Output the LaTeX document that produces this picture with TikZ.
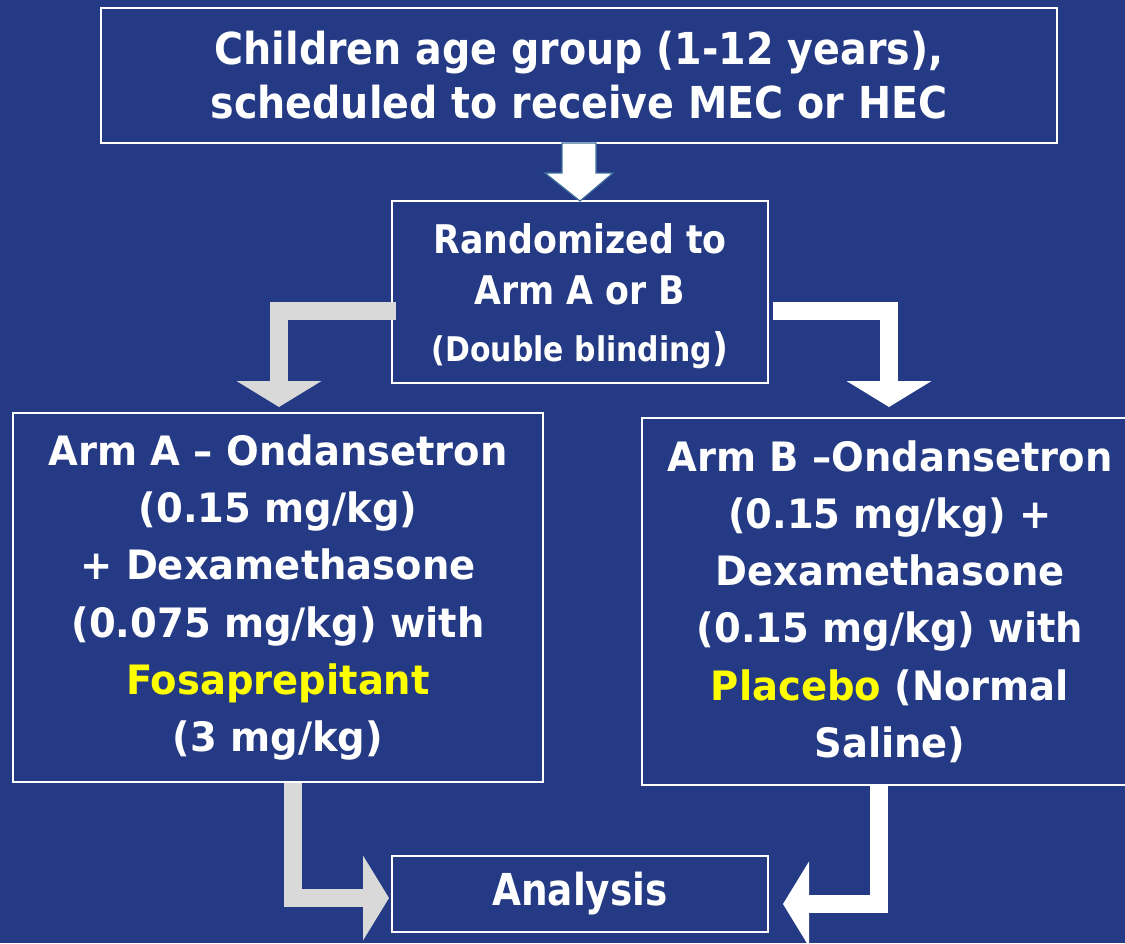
\documentclass[tikz,border=0pt]{standalone}
\usepackage{fontspec}
\setmainfont{DejaVu Sans}
\newfontfamily\narrowfont{DejaVu Sans}[FakeStretch=0.9]
\newfontfamily\armfont{DejaVu Sans}[FakeStretch=0.95]
\newfontfamily\midfont{DejaVu Sans}[FakeStretch=0.88]
\newfontfamily\anafont{DejaVu Sans}[FakeStretch=0.85]
\usetikzlibrary{arrows.meta,calc}
\definecolor{bg}{HTML}{243A85}
\definecolor{lgray}{HTML}{D9D9D9}
\definecolor{outl}{HTML}{41719C}
\definecolor{yel}{HTML}{FFFF00}
\begin{document}
\begin{tikzpicture}[x=1pt,y=-1pt,
  box/.style={draw=white,line width=2pt,inner sep=0pt,align=center,text=white},
  bent/.style={line width=18pt,line join=miter,line cap=butt,
    -{Triangle[width=85pt,length=26pt,line width=0pt]}},
  blockdown/.style={draw=outl,fill=white,line width=1.2pt,line join=miter}
]
\fill[bg] (0,0) rectangle (1125,943);
\useasboundingbox (0,0) rectangle (1125,943);
\clip (0,0) rectangle (1125,943);

\node[box,minimum width=956pt,minimum height=135pt,
  font=\narrowfont\fontsize{44}{54}\selectfont\bfseries] (top) at (579,75.5)
  {Children age group (1-12 years),\\scheduled to receive MEC or HEC};

\node[box,minimum width=376pt,minimum height=182pt] (mid) at (580,292) {};
\node[inner sep=0pt,align=center,text=white,
  font=\midfont\fontsize{39.5}{51}\selectfont\bfseries] (midtext) at ($(mid.center)+(0,4)$)
  {Randomized to\\Arm A or B\\[6pt]{\fontsize{34}{36}\selectfont(Double blinding})};

\node[box,minimum width=530pt,minimum height=369pt,
  font=\armfont\fontsize{40.5}{57.2}\selectfont\bfseries] (armA) at (278,597.5)
  {Arm A – Ondansetron\\(0.15 mg/kg)\\+ Dexamethasone\\(0.075 mg/kg) with\\\textcolor{yel}{Fosaprepitant}\\(3 mg/kg)};

\node[box,minimum width=496pt,minimum height=367pt,
  font=\armfont\fontsize{40.5}{57.2}\selectfont\bfseries] (armB) at (890,601.5)
  {Arm B –Ondansetron\\(0.15 mg/kg) +\\Dexamethasone\\(0.15 mg/kg) with\\\textcolor{yel}{Placebo} (Normal\\Saline)};

\node[box,minimum width=376pt,minimum height=76pt,
  font=\anafont\fontsize{44}{50}\selectfont\bfseries] (ana) at (580,894) {Analysis};

% top block arrow
\draw[blockdown] ($(top.south)+(-17,-1)$) -- ($(top.south)+(-17,29)$)
  -- ($(top.south)+(-34,29)$) -- ($(mid.north)+(0,1)$)
  -- ($(top.south)+(34,29)$) -- ($(top.south)+(17,29)$)
  -- ($(top.south)+(17,-1)$) -- cycle;

% bent arrows
\draw[bent,lgray] ($(mid.west)+(5,18.5)$) -| ($(armA.north)+(1,-5)$);
\draw[bent,white] ($(mid.east)+(4,18.5)$) -| ($(armB.north)+(-1,-10)$);
\draw[bent,lgray] ($(armA.south)+(15,0)$) |- ($(ana.west)+(-2,4)$);
\draw[bent,white] ($(armB.south)+(-11,0)$) |- ($(ana.east)+(14,10)$);
\end{tikzpicture}
\end{document}
